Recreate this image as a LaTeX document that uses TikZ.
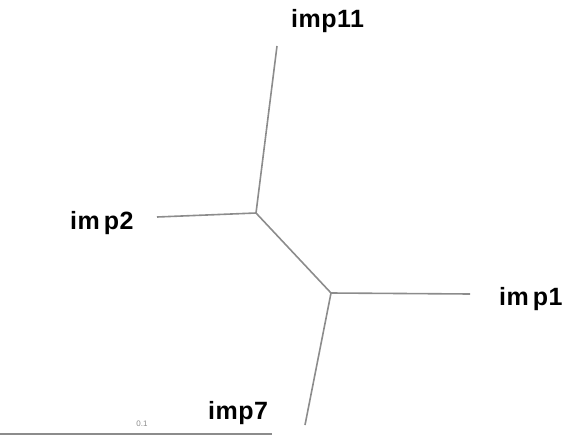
\documentclass[tikz,border=0pt]{standalone}
\usepackage{fontspec}
\setmainfont{Liberation Sans}
\definecolor{branch}{RGB}{140,140,140}
\begin{document}
\begin{tikzpicture}[x=1pt,y=-1pt,
  edge/.style={draw=branch,line width=1.6pt},
  leaf/.style={inner sep=0pt,anchor=base west,font=\fontsize{25}{28}\bfseries\addfontfeatures{LetterSpace=2}},
  scalelbl/.style={inner sep=0pt,font=\fontsize{8}{9}\selectfont,text=branch}]
\useasboundingbox (0,0) rectangle (569,441);
% internal nodes
\coordinate (A) at (256,213);
\coordinate (B) at (331,293);
% leaf ends
\coordinate (e11) at (277,46);
\coordinate (e2) at (157,217);
\coordinate (e1) at (470,294);
\coordinate (e7) at (305,425);
% scale bar ends
\coordinate (s0) at (0,434);
\coordinate (s1) at (272,434);
% labels
\node[leaf] (imp11) at (291,28) {imp11};
\node[leaf] (imp2) at (70,229) {im\kern4pt p2};
\node[leaf] (imp1) at (499,305) {im\kern4pt p1};
\node[leaf] (imp7) at (208,419) {imp7};
\node[scalelbl] (sl) at (142,424) {0.1};
% branches
\draw[edge] (A) -- (e11);
\draw[edge] (A) -- (e2);
\draw[edge] (A) -- (B);
\draw[edge] (B) -- (e1);
\draw[edge] (B) -- (e7);
\draw[edge] (s0) -- (s1);
\end{tikzpicture}
\end{document}
